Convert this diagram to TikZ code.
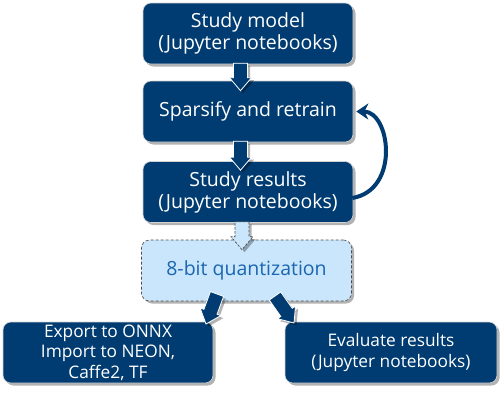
\documentclass[tikz,border=0pt]{standalone}
\usepackage{fontspec}
\setmainfont{Open Sans}
\usetikzlibrary{calc,shadows,arrows.meta}
\definecolor{dblue}{HTML}{003C71}
\definecolor{lblue}{HTML}{C9E6FC}
\definecolor{qtext}{HTML}{1A66B0}
\newcommand\blockarrow[3]{%
  \coordinate (hb) at ($(#3)!13pt!(#2)$);
  \path[#1] ($(#2)!7pt!90:(#3)$) -- ($(hb)!7pt!90:(#3)$) -- ($(hb)!11pt!90:(#3)$)
    -- (#3) -- ($(hb)!11pt!-90:(#3)$) -- ($(hb)!7pt!-90:(#3)$) -- ($(#2)!7pt!-90:(#3)$) -- cycle;}
\tikzset{
  shad/.style={drop shadow={shadow xshift=2.5pt, shadow yshift=-2.5pt, opacity=0.3, fill=black}},
  box/.style={rounded corners=8pt, fill=dblue, draw=gray!35, line width=0.6pt, text=white,
    align=center, minimum width=210pt, minimum height=61pt, inner sep=0pt, shad,
    font=\fontsize{19.5}{22}\selectfont},
  smallbox/.style={box, font=\fontsize{17.3}{20.5}\selectfont},
  qbox/.style={box, fill=lblue, draw=gray!60!black, dash pattern=on 3pt off 2pt, text=qtext},
  barrow/.style={fill=dblue, draw=white, line width=0.8pt, shad},
  qarrow/.style={fill=lblue, draw=gray!60!black, line width=0.7pt, dash pattern=on 2.5pt off 1.5pt, shad},
  loop/.style={draw=dblue, line width=4pt, -{Stealth[length=12pt,width=16pt]}}
}
\begin{document}
\begin{tikzpicture}[x=1pt,y=-1pt]
\useasboundingbox (0,0) rectangle (502,400);
\node[box] (b1) at (248,33.5) {Study model\\(Jupyter notebooks)};
\node[box] (b2) at (248,111.5) {Sparsify and retrain};
\node[box] (b3) at (248,192) {Study results\\(Jupyter notebooks)};
\node[qbox] (q) at (246.5,270.5) {8-bit quantization};
\node[smallbox] (ex) at (108,352.5) {Export to ONNX\\Import to NEON,\\Caffe2, TF};
\node[smallbox, minimum width=212pt] (ev) at (391,352.5) {Evaluate results\\(Jupyter notebooks)};
% block arrows
\coordinate (a1s) at ([xshift=-7.5pt,yshift=1pt]b1.south);
\coordinate (a1e) at ([xshift=-7.5pt,yshift=-10pt]b2.north);
\coordinate (a2s) at ([xshift=-7.5pt,yshift=1pt]b2.south);
\coordinate (a2e) at ([xshift=-7.5pt,yshift=-9pt]b3.north);
\coordinate (a3s) at ([xshift=-6pt,yshift=1pt]b3.south);
\coordinate (a3e) at ([xshift=-4.5pt,yshift=-10pt]q.north);
\coordinate (l1) at (217,294);
\coordinate (l2) at (206,324);
\coordinate (r1) at (275,296);
\coordinate (r2) at (294,323);
\blockarrow{barrow}{a1s}{a1e}
\blockarrow{barrow}{a2s}{a2e}
\blockarrow{qarrow}{a3s}{a3e}
\blockarrow{barrow}{l1}{l2}
\blockarrow{barrow}{r1}{r2}
% loop arrow
\coordinate (c1) at ([xshift=-1pt,yshift=-6pt]b3.east);
\coordinate (c2) at ([xshift=3pt]b2.east);
\draw[loop] (c1) .. controls +(48,-8) and +(34,0) .. (c2);
\end{tikzpicture}
\end{document}
